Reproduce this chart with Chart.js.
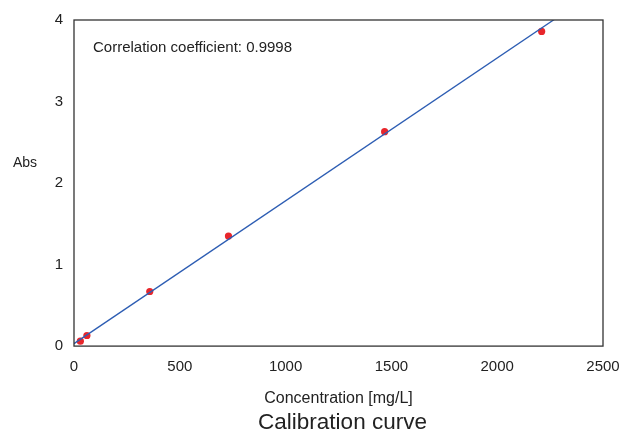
<!DOCTYPE html>
<html lang="en">
<head>
  <meta charset="UTF-8" />
  <title>Calibration curve</title>
  <script src="https://cdn.jsdelivr.net/npm/chart.js"></script>
  <style>
    body {
      margin: 0;
      background: #fff;
    }
    .wrap {
      width: 623px;
      height: 433px;
    }
  </style>
</head>
<body>
  <div class="wrap">
    <canvas id="chart" width="623" height="433"></canvas>
  </div>

  <script>
    // measured standards
    const concentrations = [30, 61, 358, 730, 1468, 2210];
    const absorbances = [0.06, 0.13, 0.67, 1.35, 2.63, 3.86];

    // regression line end points
    const fitX = [0, 2500];
    const fitY = [0.03, 4.41];

    const xTicks = [0, 500, 1000, 1500, 2000, 2500];
    const yTicks = [0, 1, 2, 3, 4];

    const correlationText = "Correlation coefficient: 0.9998";
    const yTitle = "Abs";
    const xTitle = "Concentration [mg/L]";
    const chartTitle = "Calibration curve";

    const FONT = "'Liberation Sans', Arial, sans-serif";
    const TEXT = "#222";

    // frame + free text
    const extras = {
      id: "extras",
      afterDraw(chart) {
        const { ctx, chartArea: a } = chart;
        ctx.save();
        ctx.strokeStyle = "#333";
        ctx.lineWidth = 1.3;
        ctx.strokeRect(a.left, a.top, a.right - a.left, a.bottom - a.top);

        ctx.fillStyle = TEXT;
        ctx.textBaseline = "middle";
        ctx.textAlign = "left";
        ctx.font = "15px " + FONT;
        ctx.fillText(correlationText, 93, 48);
        ctx.font = "14px " + FONT;
        ctx.fillText(yTitle, 13, 163);

        // caption under the plot, centred on the plot area
        ctx.textAlign = "center";
        ctx.font = "22.5px " + FONT;
        ctx.fillText(chartTitle, (a.left + a.right) / 2 + 4, 423);
        ctx.restore();
      }
    };

    const ctx = document.getElementById("chart").getContext("2d");
    new Chart(ctx, {
      type: "scatter",
      data: {
        datasets: [
          {
            type: "line",
            data: fitX.map((x, i) => ({ x: x, y: fitY[i] })),
            borderColor: "#2d5db3",
            borderWidth: 1.3,
            pointRadius: 0,
            fill: false
          },
          {
            data: concentrations.map((x, i) => ({ x: x, y: absorbances[i] })),
            backgroundColor: "#e8262b",
            borderWidth: 0,
            pointRadius: 3.6
          }
        ]
      },
      options: {
        responsive: false,
        animation: false,
        layout: {
          padding: { left: 0, right: 20, top: 17, bottom: 21.7 }
        },
        plugins: {
          legend: { display: false },
          tooltip: { enabled: false },
          title: { display: false }
        },
        scales: {
          x: {
            type: "linear",
            min: 0,
            max: 2500,
            grid: { display: false, drawTicks: false },
            border: { display: false },
            afterBuildTicks: (s) => { s.ticks = xTicks.map(v => ({ value: v })); },
            afterFit: (s) => { s.paddingLeft = 0; s.paddingRight = 0; },
            ticks: {
              color: TEXT,
              padding: 12,
              maxRotation: 0,
              font: { family: FONT, size: 15 },
              callback: (v) => String(v)
            },
            title: {
              display: true,
              text: xTitle,
              color: TEXT,
              font: { family: FONT, size: 16, lineHeight: 1.2 },
              padding: { top: 1, bottom: 3 }
            }
          },
          y: {
            type: "linear",
            min: 0,
            max: 4,
            grid: { display: false, drawTicks: false },
            border: { display: false },
            afterBuildTicks: (s) => { s.ticks = yTicks.map(v => ({ value: v })); },
            afterFit: (s) => { s.width = 74; },
            ticks: {
              color: TEXT,
              padding: 11,
              font: { family: FONT, size: 15 },
              callback: (v) => String(v)
            }
          }
        }
      },
      plugins: [extras]
    });
  </script>
</body>
</html>
